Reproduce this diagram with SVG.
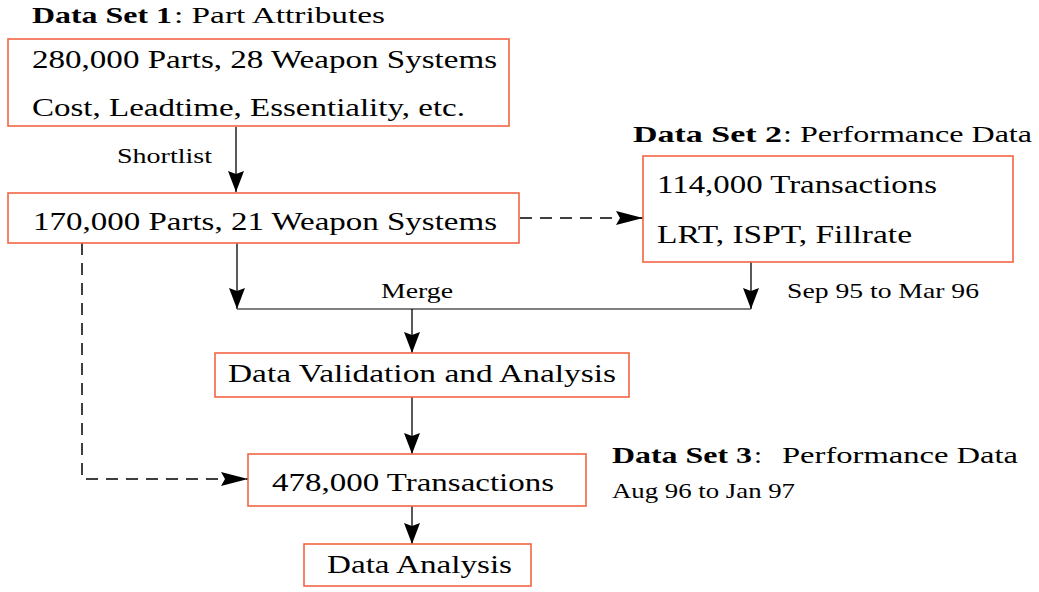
<svg xmlns="http://www.w3.org/2000/svg" width="1039" height="592" viewBox="0 0 1039 592">
<style>
text{font-family:'Liberation Serif','Times New Roman',Times,serif;fill:#000}
.t{font-size:25px}
.h{font-size:23px}
.b{font-weight:bold}
.s{font-size:21px}
.box{fill:#fff;stroke:#f26544;stroke-width:1.6}
.ln{fill:none;stroke:#000;stroke-width:1.3}
.mg{fill:none;stroke:#555;stroke-width:1.6}
.ds{fill:none;stroke:#000;stroke-width:1.5;stroke-dasharray:12 8}
</style>
<defs>
<marker id="av" markerUnits="userSpaceOnUse" markerWidth="22" markerHeight="16" refX="21" refY="8" orient="auto">
<path d="M0,0 L21,8 L0,16 L3,8 z" fill="#000"/>
</marker>
<marker id="ah" markerUnits="userSpaceOnUse" markerWidth="28" markerHeight="14" refX="27" refY="7" orient="auto">
<path d="M0,0 L27,7 L0,14 L4,7 z" fill="#000"/>
</marker>
</defs>
<g id="connectors">
<line class="ln" x1="236" y1="127" x2="236" y2="192" marker-end="url(#av)"/>
<line class="ds" x1="520" y1="218" x2="643" y2="218" marker-end="url(#ah)"/>
<line class="ln" x1="237" y1="243" x2="237" y2="309" marker-end="url(#av)"/>
<line class="ln" x1="751" y1="262" x2="751" y2="309" marker-end="url(#av)"/>
<line class="mg" x1="237" y1="309" x2="751" y2="309"/>
<line class="ln" x1="412" y1="309" x2="412" y2="353" marker-end="url(#av)"/>
<line class="ln" x1="412" y1="397" x2="412" y2="454" marker-end="url(#av)"/>
<line class="ln" x1="412" y1="506" x2="412" y2="544" marker-end="url(#av)"/>
<polyline class="ds" points="82,243 82,479 248,479" marker-end="url(#ah)"/>
<text class="s" x="117" y="163" textLength="95" lengthAdjust="spacingAndGlyphs">Shortlist</text>
<text class="s" x="381" y="298" textLength="72" lengthAdjust="spacingAndGlyphs">Merge</text>
<text class="s" x="787" y="298" textLength="192" lengthAdjust="spacingAndGlyphs">Sep 95 to Mar 96</text>
</g>
<g id="ds1">
<text class="h b" x="32" y="23" textLength="140" lengthAdjust="spacingAndGlyphs">Data Set 1</text>
<text class="h" x="174" y="23" textLength="211" lengthAdjust="spacingAndGlyphs">: Part Attributes</text>
<rect class="box" x="8" y="39" width="501" height="87"/>
<text class="t" x="32" y="68" textLength="465" lengthAdjust="spacingAndGlyphs">280,000 Parts, 28 Weapon Systems</text>
<text class="t" x="32" y="116" textLength="433" lengthAdjust="spacingAndGlyphs">Cost, Leadtime, Essentiality, etc.</text>
</g>
<g id="shortlist">
<rect class="box" x="8" y="193" width="511" height="50"/>
<text class="t" x="33" y="230" textLength="464" lengthAdjust="spacingAndGlyphs">170,000 Parts, 21 Weapon Systems</text>
</g>
<g id="ds2">
<text class="h b" x="633" y="142" textLength="149" lengthAdjust="spacingAndGlyphs">Data Set 2</text>
<text class="h" x="783" y="142" textLength="249" lengthAdjust="spacingAndGlyphs">: Performance Data</text>
<rect class="box" x="643" y="156" width="370" height="106"/>
<text class="t" x="657" y="193" textLength="280" lengthAdjust="spacingAndGlyphs">114,000 Transactions</text>
<text class="t" x="657" y="243" textLength="255" lengthAdjust="spacingAndGlyphs">LRT, ISPT, Fillrate</text>
</g>
<g id="validation">
<rect class="box" x="215" y="353" width="414" height="44"/>
<text class="t" x="228" y="382" textLength="388" lengthAdjust="spacingAndGlyphs">Data Validation and Analysis</text>
</g>
<g id="ds3">
<rect class="box" x="248" y="454" width="338" height="52"/>
<text class="t" x="272" y="491" textLength="282" lengthAdjust="spacingAndGlyphs">478,000 Transactions</text>
<text class="h b" x="612" y="463" textLength="140" lengthAdjust="spacingAndGlyphs">Data Set 3</text>
<text class="h" x="754" y="463" textLength="8" lengthAdjust="spacingAndGlyphs">:</text>
<text class="h" x="782" y="463" textLength="236" lengthAdjust="spacingAndGlyphs">Performance Data</text>
<text class="s" x="612" y="498" textLength="183" lengthAdjust="spacingAndGlyphs">Aug 96 to Jan 97</text>
</g>
<g id="analysis">
<rect class="box" x="304" y="544" width="227" height="42"/>
<text class="t" x="327" y="573" textLength="185" lengthAdjust="spacingAndGlyphs">Data Analysis</text>
</g>
</svg>
